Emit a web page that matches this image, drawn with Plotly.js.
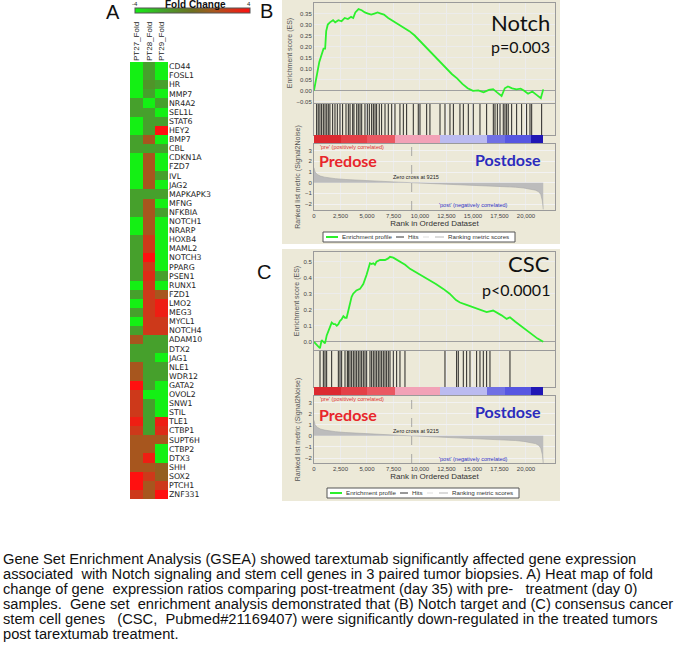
<!DOCTYPE html>
<html><head><meta charset="utf-8">
<script src="https://cdn.plot.ly/plotly-3.0.1.min.js"></script>
<style>html,body{margin:0;padding:0;background:#fff}#chart{width:684px;height:650px}</style>
</head><body><div id="chart"></div>
<script>
// ---------------- DATA ----------------
const genes = ['CD44','FOSL1','HR','MMP7','NR4A2','SEL1L','STAT6','HEY2','BMP7','CBL','CDKN1A','FZD7','IVL','JAG2','MAPKAPK3','MFNG','NFKBIA','NOTCH1','NRARP','HOXB4','MAML2','NOTCH3','PPARG','PSEN1','RUNX1','FZD1','LMO2','MEG3','MYCL1','NOTCH4','ADAM10','DTX2','JAG1','NLE1','WDR12','GATA2','OVOL2','SNW1','STIL','TLE1','CTBP1','SUPT6H','CTBP2','DTX3','SHH','SOX2','PTCH1','ZNF331'];
const samples = ['PT27_Fold','PT28_Fold','PT29_Fold'];
const pt27 = [-4,-4,-4,-4,-2,-2,-4,-4,-2,-2,-4,-4,-4,-4,-2,-2,-2,-4,-4,-2,-2,-2,-2,-2,-4,-2,-4,-2,-4,-2,1.5,-2,-2,1.5,1.5,4,2.5,2.5,2.5,3.5,2.5,1.5,1.5,1.5,1.5,4,4,2.5];
const pt28 = [-2,-2,-1.5,-2,-4,-2,-2,-2,1.5,-2,1.5,1.5,1.5,1.5,-2,1.5,1.5,1.5,1.5,2.5,2.5,4,2.5,3,2.5,2.5,2.5,2.5,2.5,2.5,-2,-2,-2,-2,-2,-2,-4,-2,-2,-2,-2,1.5,1.5,3.5,1.5,2.5,1.5,1.5];
const pt29 = [-4,-4,-2,-4,-2,-4,-2,4,-4,-2,-4,-4,-2,-4,-2,-4,-2,-4,-4,-4,-4,-4,-4,-2,-4,1.5,3.5,3.5,2.5,2.5,-2,-2,-4,-2,-2,-4,-4,-4,-4,3.5,3,1.5,-4,-4,1,1,2.5,4];

const rankTicks = [0,2500,5000,7500,10000,12500,15000,17500,20000];
const zeroCross = 9215;

const notchEsRank  = [0,300,500,700,900,1050,1150,1300,1500,1800,2000,2300,2600,2900,3200,3500,3700,3900,4200,4500,4800,5100,5400,5700,6000,6300,6600,7000,7500,8000,8500,9000,9500,10000,10500,11000,11500,12000,12500,13000,13500,14000,14500,15000,15500,16000,16500,16900,17300,17700,18000,18300,18700,19100,19500,19800,20200,20600,21000,21400,21630];
const notchEsScore = [0,0.08,0.13,0.16,0.19,0.19,0.27,0.30,0.31,0.32,0.31,0.32,0.315,0.33,0.325,0.335,0.33,0.355,0.37,0.365,0.355,0.35,0.345,0.35,0.355,0.35,0.345,0.33,0.315,0.30,0.285,0.27,0.25,0.225,0.20,0.175,0.15,0.125,0.10,0.075,0.055,0.03,0.01,-0.002,0.0,-0.008,0.003,0.006,-0.01,-0.025,0.01,0.018,0.01,0.005,0.008,0.0,-0.015,-0.005,-0.02,-0.035,0.005];
const notchHits = [250,400,560,720,880,1040,1200,1350,1500,1760,1980,2200,2450,2700,3020,3240,3400,3650,3770,4030,4180,4340,4500,4810,5030,5220,5440,5600,5760,5910,6160,6380,6700,7010,7330,7640,8110,8430,8740,9370,9840,10000,10630,10940,11890,12360,12830,13150,13770,14090,14560,15030,15660,16290,16920,17080,17300,17550,17860,18020,18180,18330,18650,19120,19590,20060,20380,20540,21480];

const cscEsRank  = [0,300,560,720,900,1040,1200,1350,1500,1670,1850,2000,2150,2300,2450,2600,2770,2925,3080,3240,3400,3550,3700,4000,4340,4650,4970,5280,5440,5600,5750,5900,6230,6700,7000,7170,7480,8110,8600,9060,10000,10630,11500,12200,12800,13400,13774,14400,15000,15700,16290,16900,17230,17700,18180,18490,19000,19500,20060,20600,21100,21630];
const cscEsScore = [0,-0.02,-0.04,0.01,0.0,-0.01,0.04,0.07,0.09,0.12,0.11,0.11,0.10,0.11,0.13,0.14,0.16,0.15,0.15,0.20,0.24,0.28,0.30,0.32,0.33,0.36,0.42,0.49,0.485,0.49,0.48,0.50,0.51,0.51,0.52,0.53,0.525,0.50,0.48,0.455,0.42,0.395,0.36,0.33,0.30,0.26,0.245,0.23,0.215,0.20,0.185,0.195,0.184,0.165,0.143,0.153,0.125,0.10,0.072,0.04,0.02,0.0];
const cscHits = [566,880,1038,1195,1667,2296,2453,2610,2925,3145,3239,3396,3553,3711,3868,4025,4182,4340,4497,4654,4811,4969,5283,5440,5597,5755,5912,6069,6226,6384,6541,6698,6855,7013,7170,7484,7799,8113,8585,12358,13459,13616,14088,14403,14717,15346,15660,15975,16289,16604,18491];

const metricRank  = [0,100,300,600,1000,1500,2000,3000,4000,5000,6000,7000,8000,9215,10000,11000,12000,13000,14000,15000,16000,17000,18000,19000,19800,20400,20900,21200,21400,21550,21630];
const metricScore = [1.4,1.0,0.78,0.62,0.52,0.44,0.38,0.30,0.24,0.18,0.13,0.09,0.05,0,-0.03,-0.07,-0.11,-0.15,-0.19,-0.23,-0.27,-0.31,-0.36,-0.42,-0.5,-0.58,-0.7,-0.85,-1.1,-1.7,-2.5];

const stripEdges = [0,2500,5000,7600,11900,16300,18000,20500,21630];
const stripLevel = [2.8,2.3,1.9,0.8,-0.6,-1.6,-2.0,-2.9];

const legendLabels = ['Enrichment profile','Hits','Ranking metric scores'];

const captionLines = [
 'Gene Set Enrichment Analysis (GSEA) showed tarextumab significantly affected gene expression',
 'associated\u00a0 with Notch signaling and stem cell genes in 3 paired tumor biopsies. A) Heat map of fold',
 'change of gene\u00a0 expression ratios comparing post-treatment (day 35) with pre-\u00a0\u00a0 treatment (day 0)',
 'samples.\u00a0 Gene set\u00a0 enrichment analysis demonstrated that (B) Notch target and (C) consensus cancer',
 'stem cell genes\u00a0\u00a0 (CSC,\u00a0 Pubmed#21169407) were significantly down-regulated in the treated tumors',
 'post tarextumab treatment.'
];

// ---------------- LAYOUT HELPERS ----------------
const W = 684, H = 650;
const px = v => v / W;
const py = v => 1 - v / H;
const yd = (t, b) => [py(b), py(t)];
const xd = (l, r) => [px(l), px(r)];

const FONT = 'Liberation Sans, Arial, sans-serif';
const ES_GREEN = '#2cf02c';
const fcScale = [[0,'#14f014'],[0.25,'#46a02c'],[0.5,'#6e7020'],[0.69,'#a8561e'],[0.81,'#cc3a1a'],[1,'#ff1010']];
const stripScale = [[0,'#1a10b0'],[0.15,'#5050e0'],[0.3,'#8a8ae8'],[0.45,'#d4d4f4'],[0.55,'#f4c0d4'],[0.7,'#f08aa0'],[0.85,'#e84a50'],[1,'#d81f26']];

const traces = [];
const layout = {
  width: W, height: H, margin: {l:0, r:0, t:0, b:0},
  paper_bgcolor: '#ffffff', plot_bgcolor: '#ffffff',
  font: {family: FONT, color: '#222'},
  showlegend: false,
  shapes: [], annotations: []
};
const A = layout.annotations;
function note(text, x, y, font, xanchor) {
  A.push({text: text, x: px(x), y: py(y), xref: 'paper', yref: 'paper', showarrow: false,
    xanchor: xanchor || 'center', yanchor: 'middle', align: 'left', font: font});
}

// Heatmap
traces.push({
  type: 'heatmap', x: samples, y: genes,
  z: genes.map((g, i) => [pt27[i], pt28[i], pt29[i]]),
  colorscale: fcScale, zmin: -4, zmax: 4, xaxis: 'x', yaxis: 'y',
  hoverinfo: 'skip',
  colorbar: {orientation: 'h', x: px(192), xanchor: 'center', y: py(8), yanchor: 'top',
    len: 115, lenmode: 'pixels', thickness: 5, thicknessmode: 'pixels',
    outlinewidth: 1, outlinecolor: '#555', showticklabels: false, ticks: '', xpad: 0, ypad: 0}
});
layout.xaxis = {domain: xd(130,168), anchor: 'y', side: 'top', tickangle: -90, ticks: '',
  tickfont: {size: 8, family: FONT, color: '#222'}, showgrid: false, zeroline: false, showline: false, fixedrange: true};
layout.yaxis = {domain: yd(62,499), anchor: 'x', side: 'right', autorange: 'reversed', ticks: '',
  tickmode: 'array', tickvals: genes, ticktext: genes,
  tickfont: {size: 7.8, family: 'DejaVu Sans, sans-serif', color: '#222'}, showgrid: false, zeroline: false, showline: false};

// custom legend box (layout decoration)
function legendBox(x0, yc) {
  layout.shapes.push({type: 'rect', xref: 'paper', yref: 'paper', x0: px(x0), x1: px(x0 + 192), y0: py(yc + 5), y1: py(yc - 5),
    fillcolor: '#ffffff', line: {color: '#555', width: 1}});
  const seg = (a, b, color, w) => layout.shapes.push({type: 'line', xref: 'paper', yref: 'paper',
    x0: px(x0 + a), x1: px(x0 + b), y0: py(yc), y1: py(yc), line: {color: color, width: w}});
  seg(3, 15, ES_GREEN, 2);
  seg(73, 81, '#333', 1);
  seg(100, 106, '#eeeeee', 2);
  seg(112, 121, '#cfcfcf', 1.5);
  const f = {size: 6.2, color: '#333', family: FONT};
  note(legendLabels[0], x0 + 17, yc, f, 'left');
  note(legendLabels[1], x0 + 83, yc, f, 'left');
  note(legendLabels[2], x0 + 123, yc, f, 'left');
}

// GSEA panel builder
function panel(cfg) {
  const n = cfg.n;
  const iE = n, iH = n + 1, iS = n + 2, iR = n + 3;
  const baseX = {domain: xd(314,555), range: [0,22740], showline: true, mirror: true, linecolor: '#9a9a9a', linewidth: 1,
    zeroline: false, ticks: '', tickvals: rankTicks, showticklabels: false, showgrid: true, gridcolor: '#ececec', fixedrange: true};
  layout.shapes.push({type: 'rect', xref: 'paper', yref: 'paper', x0: px(282), x1: px(560), y0: py(cfg.frame[1]), y1: py(cfg.frame[0]),
    fillcolor: '#ece9d8', line: {width: 0}, layer: 'below'});
  // ES
  layout['xaxis' + iE] = Object.assign({}, baseX, {anchor: 'y' + iE});
  layout['yaxis' + iE] = {domain: yd(cfg.es[0], cfg.es[1]), anchor: 'x' + iE, range: cfg.esRange, dtick: cfg.esDtick, tick0: 0,
    tickformat: cfg.esFmt, tickfont: {size: 6, color: '#444'}, ticks: '', showline: true, mirror: true, linecolor: '#9a9a9a',
    showgrid: true, gridcolor: '#ececec', zeroline: true, zerolinecolor: '#a0a0a0', zerolinewidth: 1,
    title: {text: 'Enrichment score (ES)', font: {size: 7, color: '#555'}, standoff: 3}};
  traces.push({type: 'scatter', mode: 'lines', x: cfg.esRank, y: cfg.esScore, xaxis: 'x' + iE, yaxis: 'y' + iE,
    line: {color: ES_GREEN, width: 1.8}, name: legendLabels[0], hoverinfo: 'skip'});
  // Hits
  layout['xaxis' + iH] = Object.assign({}, baseX, {anchor: 'y' + iH});
  layout['yaxis' + iH] = {domain: yd(cfg.hits[0], cfg.hits[1]), anchor: 'x' + iH, range: [0,1], showticklabels: false, ticks: '',
    showgrid: false, zeroline: false, showline: true, mirror: true, linecolor: '#9a9a9a'};
  const hx = [], hy = [];
  cfg.hits_.forEach(h => { hx.push(h, h, null); hy.push(0, 1, null); });
  traces.push({type: 'scatter', mode: 'lines', x: hx, y: hy, xaxis: 'x' + iH, yaxis: 'y' + iH,
    line: {color: '#111', width: 0.9}, name: legendLabels[1], hoverinfo: 'skip'});
  // Strip
  layout['xaxis' + iS] = Object.assign({}, baseX, {anchor: 'y' + iS, showgrid: false, showline: false});
  layout['yaxis' + iS] = {domain: yd(cfg.strip[0], cfg.strip[1]), anchor: 'x' + iS, range: [0,1], visible: false};
  traces.push({type: 'heatmap', x: stripEdges, y: [0,1], z: [stripLevel], zmin: -3, zmax: 3, colorscale: stripScale,
    showscale: false, xaxis: 'x' + iS, yaxis: 'y' + iS, hoverinfo: 'skip'});
  // Ranked
  layout['xaxis' + iR] = Object.assign({}, baseX, {anchor: 'y' + iR, showticklabels: true, tickformat: ',d',
    tickfont: {size: 6, color: '#444'}, title: {text: 'Rank in Ordered Dataset', font: {size: 8, color: '#333'}, standoff: 2}});
  layout['yaxis' + iR] = {domain: yd(cfg.rank[0], cfg.rank[1]), anchor: 'x' + iR, range: cfg.rankRange, tickvals: [-2,-1,0,1,2,3],
    tickfont: {size: 6, color: '#444'}, ticks: '', showline: true, mirror: true, linecolor: '#9a9a9a', showgrid: true, gridcolor: '#f2f2f2',
    zeroline: false, title: {text: 'Ranked list metric (Signal2Noise)', font: {size: 7, color: '#555'}, standoff: 3}};
  traces.push({type: 'scatter', mode: 'lines', x: metricRank, y: metricScore, xaxis: 'x' + iR, yaxis: 'y' + iR,
    fill: 'tozeroy', fillcolor: '#bcbcbc', line: {color: '#a8a8a8', width: 0.6}, name: legendLabels[2], hoverinfo: 'skip'});
  layout.shapes.push({type: 'line', xref: 'x' + iR, yref: 'y' + iR + ' domain', x0: zeroCross, x1: zeroCross, y0: 0, y1: 1,
    line: {color: '#999', width: 0.8, dash: 'dash'}});
  legendBox(cfg.legendX, cfg.legendY);
  const big = 'Lato, Liberation Sans, sans-serif';
  note(cfg.label, cfg.labelXY[0], cfg.labelXY[1], {size: 20, color: '#111'});
  note(cfg.title, 552, cfg.titleY, {size: 22, family: big, color: '#111'}, 'right');
  note(cfg.pval, 552, cfg.pY, {size: 16, family: big, color: '#111'}, 'right');
  note('Predose', 317, cfg.predY, {size: 16, family: big, color: '#e8262b', weight: 'bold'}, 'left');
  note('Postdose', 543, cfg.postY, {size: 16, family: big, color: '#2b2bbd', weight: 'bold'}, 'right');
  note("'pre' (positively correlated)", 318, cfg.preTxtY, {size: 5.5, color: '#e03030'}, 'left');
  note("'post' (negatively correlated)", 473, cfg.postTxtY, {size: 5.5, color: '#3030c0'});
  note('Zero cross at ' + zeroCross, 416, cfg.zeroTxtY, {size: 5.5, color: '#222'});
}

panel({n: 2, frame: [0,244], es: [3,103], hits: [104,135], strip: [135,144], rank: [144,210],
  esRange: [-0.057,0.398], esDtick: 0.05, esFmt: '.2f', rankRange: [-2.56,3.63],
  esRank: notchEsRank, esScore: notchEsScore, hits_: notchHits, legendX: 323, legendY: 237,
  label: 'B', labelXY: [266,11], title: 'Notch', titleY: 22, pval: 'p=0.003', pY: 47,
  predY: 161, postY: 159, preTxtY: 147, postTxtY: 205, zeroTxtY: 177});
panel({n: 6, frame: [249,501], es: [252,350], hits: [351,387], strip: [387,396], rank: [396,463],
  esRange: [-0.051,0.56], esDtick: 0.1, esFmt: '.1f', rankRange: [-2.45,3.6],
  esRank: cscEsRank, esScore: cscEsScore, hits_: cscHits, legendX: 327, legendY: 493,
  label: 'C', labelXY: [264,272], title: 'CSC', titleY: 264, pval: 'p<0.0001', pY: 289,
  predY: 414, postY: 411, preTxtY: 399, postTxtY: 459, zeroTxtY: 431});

// Heatmap annotations
note('A', 113, 12, {size: 20, color: '#111'});
note('Fold Change', 195, 5, {size: 10, color: '#111', weight: 'bold'});
note('-4', 135, 3.5, {size: 6, color: '#222'});
note('4', 249, 3.5, {size: 6, color: '#222'});
// Caption
captionLines.forEach((t, i) => note(t, 1, 559 + i * 15, {size: 14.7, family: FONT, color: '#111'}, 'left'));

Plotly.newPlot('chart', traces, layout, {staticPlot: true, displayModeBar: false});
</script></body></html>
